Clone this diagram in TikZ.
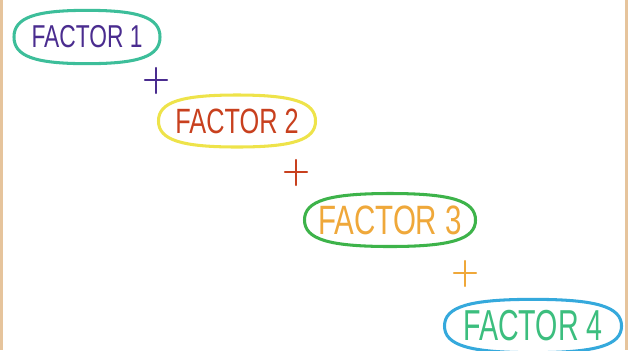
\documentclass[tikz,border=0pt]{standalone}
\usepackage{fontspec}
\setmainfont{Liberation Sans}
\usetikzlibrary{calc}
\definecolor{tealring}{HTML}{3DBE9A}
\definecolor{purpletext}{HTML}{4A2C8F}
\definecolor{yellowring}{HTML}{EEE34A}
\definecolor{redtext}{HTML}{C8401E}
\definecolor{greenring}{HTML}{3DB34A}
\definecolor{orangetext}{HTML}{EFA83A}
\definecolor{bluering}{HTML}{35A9DC}
\definecolor{greentext}{HTML}{3CBE7E}
\definecolor{tanedge}{HTML}{E6C49C}
\begin{document}
\begin{tikzpicture}[x=0.03cm, y=-0.03cm,
  factor/.style={rectangle, inner sep=0pt, outer sep=0pt},
  ringline/.style={line width=2.6pt},
  plusline/.style={line width=2pt, line cap=round}]
\useasboundingbox (0,0) rectangle (628,350);
\fill[tanedge] (0,0) rectangle (3,350);
\fill[tanedge] (625,0) rectangle (628,350);

\node (f1) at (87,37)[factor, text=purpletext, minimum width=4.38cm, minimum height=1.6cm,
  font=\fontsize{27}{27}\selectfont]{\scalebox{0.72}[1]{FACTOR 1}};
\node (f2) at (237,121)[factor, text=redtext, minimum width=4.71cm, minimum height=1.56cm,
  font=\fontsize{30}{30}\selectfont]{\scalebox{0.72}[1]{FACTOR 2}};
\node (f3) at (390,220)[factor, text=orangetext, minimum width=5.13cm, minimum height=1.59cm,
  font=\fontsize{35}{35}\selectfont]{\scalebox{0.72}[1]{FACTOR 3}};
\node (f4) at (533,326)[factor, text=greentext, minimum width=5.31cm, minimum height=1.6cm,
  font=\fontsize{37}{37}\selectfont]{\scalebox{0.66}[1]{FACTOR 4}};

% rings round the factors
\foreach \n/\c in {f1/tealring, f2/yellowring, f3/greenring, f4/bluering}
  \draw[ringline, \c] (\n.west)
    .. controls ($(\n.west)!0.72!(\n.north west)$) and ($(\n.north)!0.72!(\n.north west)$) .. (\n.north)
    .. controls ($(\n.north)!0.72!(\n.north east)$) and ($(\n.east)!0.72!(\n.north east)$) .. (\n.east)
    .. controls ($(\n.east)!0.72!(\n.south east)$) and ($(\n.south)!0.72!(\n.south east)$) .. (\n.south)
    .. controls ($(\n.south)!0.72!(\n.south west)$) and ($(\n.west)!0.72!(\n.south west)$) .. (\n.west) -- cycle;

\foreach \px/\py/\c in {156/80/purpletext, 296/172/redtext, 465/273/orangetext}
  \draw[plusline, \c] (\px-11,\py)--(\px+11,\py) (\px,\py-12)--(\px,\py+13);

\end{tikzpicture}
\end{document}
